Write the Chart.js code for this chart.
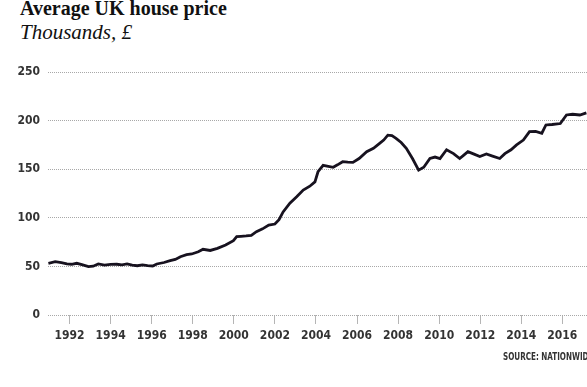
<!DOCTYPE html>
<html>
<head>
<meta charset="utf-8">
<script src="https://cdn.jsdelivr.net/npm/chart.js"></script>
<style>
  html, body { margin: 0; padding: 0; background: #fff; overflow: hidden; }
  body { width: 587px; height: 387px; position: relative; }
  #chartBox { position: absolute; left: 0; top: 0; width: 587px; height: 387px; }
  .title { position: absolute; left: 20px; top: -3px; font: bold 20px "Liberation Serif", serif; color: #111; white-space: nowrap; }
  .subtitle { position: absolute; left: 20px; top: 20px; font: italic 21px "Liberation Serif", serif; color: #111; white-space: nowrap; }
  .source { position: absolute; left: 503px; top: 351px; font: bold 10px "DejaVu Sans Condensed", "Liberation Sans Narrow", sans-serif; color: #333; white-space: nowrap; transform: scaleX(0.8); transform-origin: left top; }
</style>
</head>
<body>
<div class="title">Average UK house price</div>
<div class="subtitle">Thousands, £</div>
<div id="chartBox"><canvas id="myChart"></canvas></div>
<div class="source">SOURCE: NATIONWIDE</div>
<script>
// decimal year of each reading
const years = [1990.97, 1991.3, 1991.6, 1991.87, 1992.1, 1992.35, 1992.6, 1992.92, 1993.15, 1993.4, 1993.7,
  1994.0, 1994.3, 1994.55, 1994.8, 1995.05, 1995.3, 1995.55, 1995.8, 1996.05, 1996.25, 1996.6, 1996.9,
  1997.15, 1997.4, 1997.7, 1997.95, 1998.27, 1998.5, 1998.85, 1999.2, 1999.6, 1999.98, 2000.14, 2000.35,
  2000.6, 2000.85, 2001.1, 2001.4, 2001.7, 2002.0, 2002.2, 2002.4, 2002.73, 2003.06, 2003.38, 2003.7,
  2003.95, 2004.1, 2004.35, 2004.6, 2004.84, 2005.05, 2005.3, 2005.55, 2005.8, 2006.1, 2006.47, 2006.8,
  2007.1, 2007.3, 2007.5, 2007.7, 2007.9, 2008.15, 2008.4, 2008.7, 2009.0, 2009.25, 2009.55, 2009.8,
  2010.04, 2010.36, 2010.7, 2011.0, 2011.2, 2011.4, 2011.7, 2011.98, 2012.3, 2012.6, 2012.95, 2013.2,
  2013.5, 2013.77, 2014.1, 2014.4, 2014.7, 2015.0, 2015.2, 2015.5, 2015.9, 2016.2, 2016.5, 2016.85, 2017.17];

// thousands of pounds
const prices = [53.2, 54.8, 53.8, 52.5, 52.2, 53.2, 51.8, 49.7, 50.2, 52.5, 51.4,
  52.0, 52.2, 51.6, 52.5, 51.2, 50.7, 51.5, 50.7, 50.4, 52.5, 54.0, 55.9,
  57.2, 60.0, 62.0, 62.8, 65.0, 67.6, 66.4, 68.6, 72.0, 76.5, 80.6, 80.9,
  81.3, 82.0, 85.7, 88.6, 92.6, 93.6, 98.0, 106.0, 115.0, 121.7, 128.6, 132.5,
  137.0, 147.4, 154.0, 153.0, 152.0, 154.5, 157.7, 157.2, 157.0, 161.0, 168.0, 171.5,
  176.6, 180.0, 185.0, 184.5, 181.8, 177.5, 171.5, 161.0, 149.0, 152.0, 161.0, 162.5,
  161.0, 170.0, 166.0, 161.0, 164.5, 168.0, 165.5, 163.0, 165.6, 163.5, 161.0, 166.0,
  170.0, 175.0, 180.0, 188.6, 189.0, 187.0, 195.5, 196.0, 197.0, 205.8, 206.5, 205.8, 208.0];

const tickYears = [1992, 1994, 1996, 1998, 2000, 2002, 2004, 2006, 2008, 2010, 2012, 2014, 2016];
const yTicks = [0, 50, 100, 150, 200, 250];

const labelFont = { family: '"DejaVu Sans Condensed", "Liberation Sans Narrow", sans-serif', size: 12, weight: 'bold' };

new Chart(document.getElementById('myChart'), {
  type: 'line',
  data: {
    datasets: [{
      data: years.map((y, i) => ({ x: y, y: prices[i] })),
      borderColor: '#17121f',
      borderWidth: 2.8,
      pointRadius: 0,
      tension: 0,
      fill: false
    }]
  },
  options: {
    responsive: true,
    maintainAspectRatio: false,
    animation: false,
    layout: { padding: { top: 72, right: 0, bottom: 0, left: 0 } },
    plugins: { legend: { display: false }, tooltip: { enabled: false } },
    scales: {
      x: {
        type: 'linear',
        min: 1990.95,
        max: 2017.2,
        afterBuildTicks: s => { s.ticks = tickYears.map(v => ({ value: v })); },
        afterFit: s => { s.height = 72; },
        grid: { drawOnChartArea: false, drawTicks: true, tickLength: 9, color: '#b5b5b5', lineWidth: 1 },
        border: { display: false },
        ticks: { color: '#333', font: labelFont, padding: 5, maxRotation: 0, callback: v => String(v) }
      },
      y: {
        min: 0,
        max: 250,
        afterBuildTicks: s => { s.ticks = yTicks.map(v => ({ value: v })); },
        afterFit: s => { s.width = 48; },
        grid: { drawTicks: false, color: '#a8a8a8', lineWidth: 1 },
        border: { display: false, dash: [1, 1] },
        ticks: { color: '#333', font: labelFont, padding: 8 }
      }
    }
  }
});
</script>
</body>
</html>
